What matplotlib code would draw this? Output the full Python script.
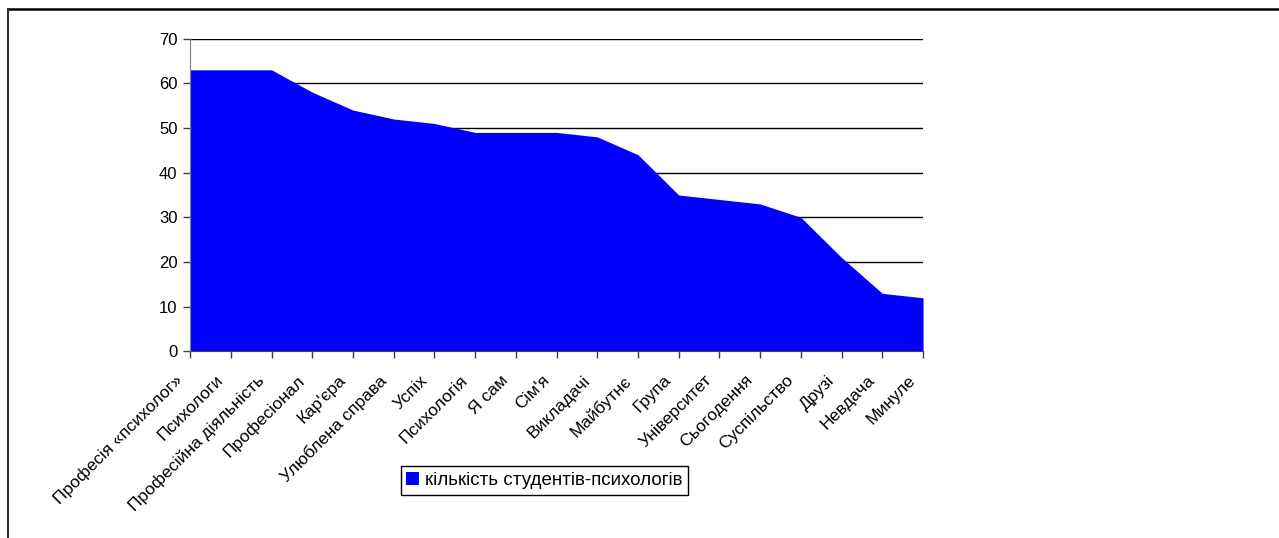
import matplotlib
matplotlib.use("Agg")
import matplotlib.pyplot as plt
import matplotlib.transforms as mtransforms
from matplotlib.patches import Patch
from matplotlib.lines import Line2D

plt.rcParams['font.family'] = ['Liberation Sans', 'DejaVu Sans']

# categories and counts
categories = ['Професія «психолог»', 'Психологи', 'Професійна діяльність',
              'Професіонал', "Кар'єра", 'Улюблена справа', 'Успіх',
              'Психологія', 'Я сам', "Сім'я", 'Викладачі', 'Майбутнє',
              'Група', 'Університет', 'Сьогодення', 'Суспільство', 'Друзі',
              'Невдача', 'Минуле']
counts = [63, 63, 63, 58, 54, 52, 51, 49, 49, 49, 48, 44, 35, 34, 33, 30, 21, 13, 12]
series_name = 'кількість студентів-психологів'
y_ticks = [0, 10, 20, 30, 40, 50, 60, 70]

fig = plt.figure(figsize=(12.79, 5.38), dpi=100)
ax = fig.add_axes([0.1486, 0.3467, 0.7217 - 0.1486, 0.9284 - 0.3467])

x = list(range(len(categories)))
ax.fill_between(x, counts, 0, color='#0000FF', linewidth=0, zorder=2)

ax.set_xlim(0, len(categories) - 1)
ax.set_ylim(0, 70)
ax.set_yticks(y_ticks)
ax.yaxis.grid(True, color='black', linewidth=1.0, zorder=1)
ax.set_axisbelow(True)

ax.set_xticks(x)
ax.set_xticklabels(categories, rotation=45, ha='right', va='top',
                   rotation_mode='anchor', fontsize=12.5)
ax.tick_params(axis='x', direction='out', length=5, width=1, color='#404040', pad=8)
ax.tick_params(axis='y', direction='out', length=5, width=1, color='#404040',
               labelsize=12, pad=4)

# shift rotated labels so their ends sit just left of the ticks, like Excel does
shift = mtransforms.ScaledTranslation(-15 / 100, -3 / 100, fig.dpi_scale_trans)
for lbl in ax.get_xticklabels():
    lbl.set_transform(lbl.get_transform() + shift)

for side in ['top', 'right']:
    ax.spines[side].set_visible(False)
ax.spines['left'].set_color('#808080')
ax.spines['bottom'].set_color('#404040')
ax.spines['left'].set_zorder(3)

handle = Patch(facecolor='#0000FF', edgecolor='none')
leg = fig.legend([handle], [series_name], loc='center',
                 bbox_to_anchor=(0.4257, 0.1069), bbox_transform=fig.transFigure,
                 fancybox=False, shadow=False, framealpha=1, edgecolor='black',
                 fontsize=13.5, handlelength=0.65, handleheight=0.65,
                 handletextpad=0.35, borderpad=0.3, borderaxespad=0)
leg.get_frame().set_linewidth(1.0)

# outer frame around the chart (top and left edges)
fig.add_artist(Line2D([8 / 1279, 1], [1 - 8.5 / 538, 1 - 8.5 / 538],
                      transform=fig.transFigure, color='black', linewidth=1.8))
fig.add_artist(Line2D([8 / 1279, 8 / 1279], [0, 1 - 8.5 / 538],
                      transform=fig.transFigure, color='#303030', linewidth=1.5))

fig.savefig('out.png', dpi=100)
